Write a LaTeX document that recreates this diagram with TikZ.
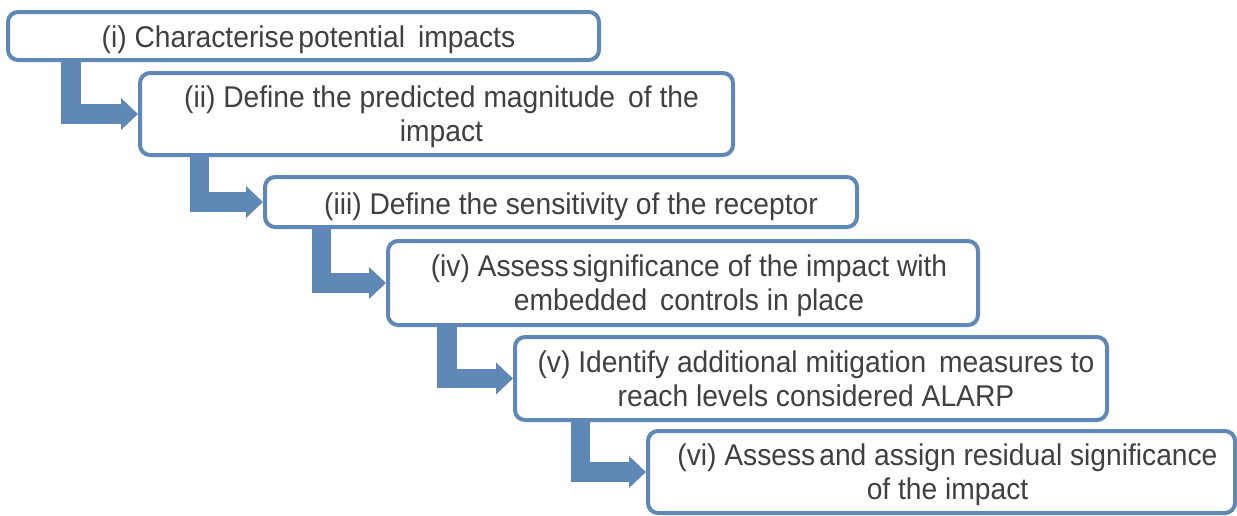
\documentclass[tikz,border=0pt]{standalone}
\usepackage{fontspec}
\setmainfont{Liberation Sans}[FakeStretch=0.94]
\usetikzlibrary{arrows.meta}
\definecolor{boxblue}{RGB}{95,136,182}
\definecolor{txtgray}{RGB}{64,64,64}
\newcommand\lnstrut{\vrule width 0pt height 27pt depth 5.5pt\relax}
\newcommand\tight{\hspace{4pt}}
\newcommand\wide{\hspace{13pt}}
\tikzset{
  stepbox/.style={draw=boxblue, line width=4pt, rounded corners=10pt, fill=white,
    inner sep=0pt},
  steptext/.style={inner sep=0pt, align=center, text=txtgray,
    font=\fontsize{30}{34}\selectfont},
  elbow/.style={draw=boxblue, line width=19.5pt, line join=miter,
    -{Triangle[width=31pt,length=17pt]}}
}
\begin{document}
\begin{tikzpicture}[x=1pt,y=-1pt]
\useasboundingbox (0,0) rectangle (1237,515);
\node[stepbox, minimum width=591pt, minimum height=48pt] (s1) at (303.5,36) {};
\node[stepbox, minimum width=593pt, minimum height=82pt] (s2) at (436.5,114) {};
\node[stepbox, minimum width=592pt, minimum height=50pt] (s3) at (561,202) {};
\node[stepbox, minimum width=590pt, minimum height=84pt] (s4) at (683,283) {};
\node[stepbox, minimum width=592pt, minimum height=83pt] (s5) at (811,378.5) {};
\node[stepbox, minimum width=587pt, minimum height=82pt] (s6) at (941.5,472) {};
\node[steptext] (t1) at ([xshift=5pt,yshift=-1pt]s1.center)
  {\lnstrut(i) Characterise\tight potential\wide impacts};
\node[steptext] (t2) at ([xshift=5pt]s2.center)
  {\lnstrut(ii) Define the predicted magnitude\wide of the\\\lnstrut impact};
\node[steptext] (t3) at ([xshift=10pt,yshift=-2pt]s3.center)
  {\lnstrut(iii) Define the sensitivity of the receptor};
\node[steptext] (t4) at ([xshift=6pt]s4.center)
  {\lnstrut(iv) Assess\tight significance of the impact with\\\lnstrut embedded\wide controls in place};
\node[steptext] (t5) at ([xshift=5pt]s5.center)
  {\lnstrut(v) Identify additional mitigation\wide measures to\\\lnstrut reach levels considered ALARP};
\node[steptext] (t6) at ([xshift=6pt]s6.center)
  {\lnstrut(vi) Assess\tight and assign residual significance\\\lnstrut of the impact};
\draw[elbow] ([xshift=65pt]s1.south west) |- (s2.west);
\draw[elbow] ([xshift=61.5pt]s2.south west) |- (s3.west);
\draw[elbow] ([xshift=58.5pt]s3.south west) |- (s4.west);
\draw[elbow] ([xshift=61pt]s4.south west) |- (s5.west);
\draw[elbow] ([xshift=67.5pt]s5.south west) |- (s6.west);
\end{tikzpicture}
\end{document}
